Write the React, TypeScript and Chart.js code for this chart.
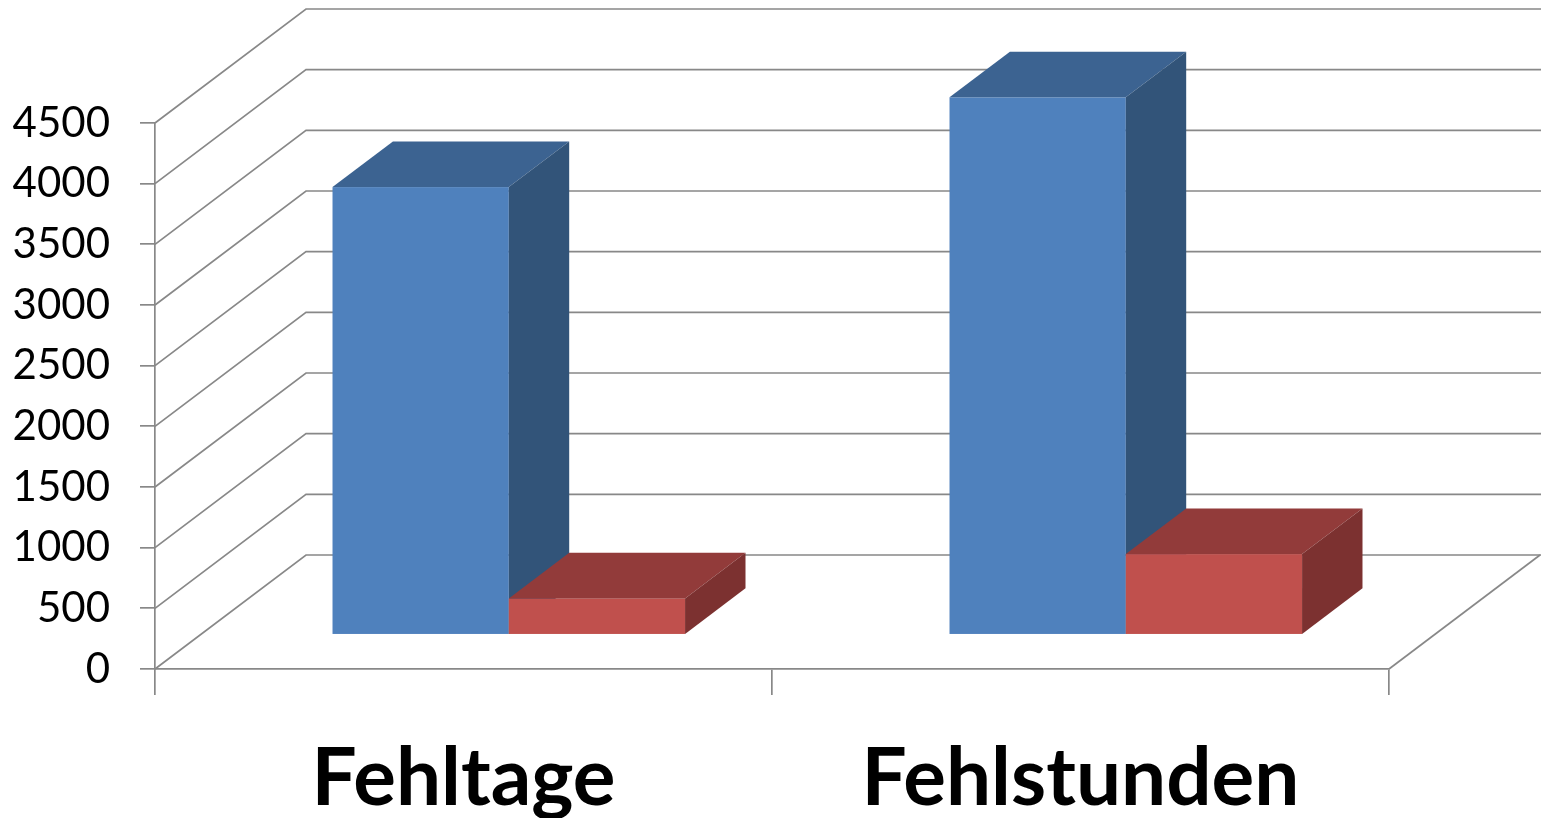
import React, { useEffect, useRef } from "react";
import { Chart, registerables } from "chart.js";

Chart.register(...registerables);

const categories = ["Fehltage", "Fehlstunden"];
const seriesBlue = [3690, 4430];
const seriesRed = [300, 665];
const yTicksMin = 0;
const yTicksMax = 4500;
const yTickStep = 500;

const GRID = "#888888";
const DEPTH_X = 151;
const DEPTH_Y = -114;
const BAR_FRONT = 0.3;
const BAR_BACK = 0.7;

const threeD = {
  id: "threeD",
  beforeDatasetsDraw(chart: any) {
    const ctx = chart.ctx;
    const area = chart.chartArea;
    const yScale = chart.scales.y;
    ctx.save();
    ctx.strokeStyle = GRID;
    ctx.lineWidth = 1.7;
    const ticks = yScale.ticks;
    const canvasRight = chart.width;
    for (const t of ticks) {
      const yf = yScale.getPixelForValue(t.value);
      ctx.beginPath();
      ctx.moveTo(area.left, yf);
      ctx.lineTo(area.left + DEPTH_X, yf + DEPTH_Y);
      ctx.lineTo(canvasRight, yf + DEPTH_Y);
      ctx.stroke();
    }
    const y0 = yScale.getPixelForValue(0);
    ctx.beginPath();
    ctx.moveTo(area.right, y0);
    ctx.lineTo(area.right + DEPTH_X, y0 + DEPTH_Y);
    ctx.stroke();
    ctx.restore();

    const n = categories.length;
    for (let i = 0; i < n; i++) {
      chart.data.datasets.forEach((ds: any, di: number) => {
        const meta = chart.getDatasetMeta(di);
        const el: any = meta.data[i];
        if (!el) return;
        const props = el.getProps(["x", "y", "base", "width"], true);
        const fx = BAR_FRONT * DEPTH_X;
        const fy = BAR_FRONT * DEPTH_Y;
        const bx = (BAR_BACK - BAR_FRONT) * DEPTH_X;
        const by = (BAR_BACK - BAR_FRONT) * DEPTH_Y;
        const x0 = props.x - props.width / 2 + fx;
        const x1 = props.x + props.width / 2 + fx;
        const yT = Math.min(props.y, props.base) + fy;
        const yB = Math.max(props.y, props.base) + fy;
        ctx.save();
        ctx.fillStyle = ds.backgroundColor;
        ctx.fillRect(x0, yT, x1 - x0, yB - yT);
        ctx.fillStyle = ds.topColor;
        ctx.beginPath();
        ctx.moveTo(x0, yT);
        ctx.lineTo(x1, yT);
        ctx.lineTo(x1 + bx, yT + by);
        ctx.lineTo(x0 + bx, yT + by);
        ctx.closePath();
        ctx.fill();
        ctx.fillStyle = ds.sideColor;
        ctx.beginPath();
        ctx.moveTo(x1, yT);
        ctx.lineTo(x1 + bx, yT + by);
        ctx.lineTo(x1 + bx, yB + by);
        ctx.lineTo(x1, yB);
        ctx.closePath();
        ctx.fill();
        ctx.restore();
      });
    }
    return false;
  },
};

export default function App() {
  const ref = useRef<HTMLCanvasElement | null>(null);
  useEffect(() => {
    if (!ref.current) return;
    const chart = new Chart(ref.current, {
      type: "bar",
      data: {
        labels: categories,
        datasets: [
          {
            label: "Blau",
            data: seriesBlue,
            backgroundColor: "#4F81BD",
            topColor: "#3C6391",
            sideColor: "#325479",
            categoryPercentage: 2 / 3.5,
            barPercentage: 1,
          } as any,
          {
            label: "Rot",
            data: seriesRed,
            backgroundColor: "#C0504D",
            topColor: "#923B3A",
            sideColor: "#7C3130",
            categoryPercentage: 2 / 3.5,
            barPercentage: 1,
          } as any,
        ],
      },
      options: {
        animation: false,
        responsive: true,
        maintainAspectRatio: false,
        layout: { padding: { top: 123, right: 152, left: 0, bottom: 0 } },
        plugins: { legend: { display: false }, tooltip: { enabled: false } },
        scales: {
          x: {
            offset: true,
            grid: {
              offset: true,
              drawOnChartArea: false,
              drawTicks: true,
              tickLength: 26,
              color: GRID,
              lineWidth: 1.7,
            },
            border: { display: true, color: GRID, width: 1.7 },
            ticks: {
              color: "#000",
              font: { family: "Lato", size: 80, weight: "bold" },
              padding: 36,
              maxRotation: 0,
              autoSkip: false,
            },
            afterFit: (s: any) => {
              s.height = 149;
            },
          },
          y: {
            min: yTicksMin,
            max: yTicksMax,
            grid: {
              drawOnChartArea: false,
              drawTicks: true,
              tickLength: 15,
              color: GRID,
              lineWidth: 1.7,
            },
            border: { display: true, color: GRID, width: 1.7 },
            ticks: {
              stepSize: yTickStep,
              color: "#000",
              font: { family: "Lato", size: 42 },
              padding: 30,
              callback: (v: any) => String(v),
            },
            afterFit: (s: any) => {
              s.width = 155;
            },
          },
        },
      },
      plugins: [threeD],
    });
    return () => chart.destroy();
  }, []);
  return (
    <div style={{ position: "absolute", left: 0, top: 0, width: 1541, height: 818 }}>
      <canvas ref={ref} />
    </div>
  );
}
